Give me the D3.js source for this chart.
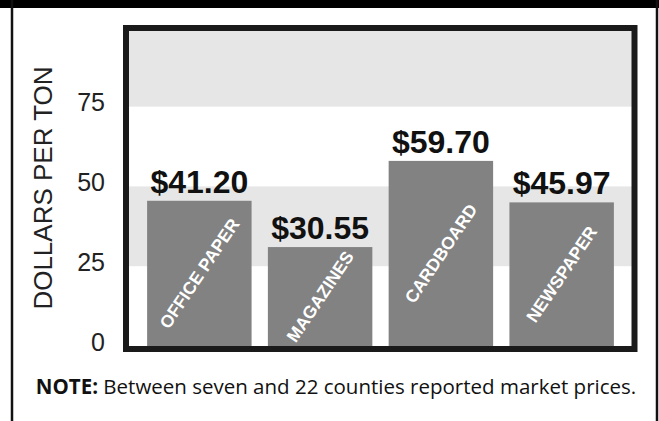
<!DOCTYPE html>
<html>
<head>
<meta charset="utf-8">
<script src="https://cdn.jsdelivr.net/npm/d3@7"></script>
<style>
  body { margin: 0; background: #fff; }
  svg { display: block; }
</style>
</head>
<body>
<svg id="chart" width="659" height="421"></svg>
<script>
// values
var categories = ["OFFICE PAPER", "MAGAZINES", "CARDBOARD", "NEWSPAPER"];
var priceLabels = ["$41.20", "$30.55", "$59.70", "$45.97"];
// bar heights as drawn in the original (dollars per ton)
var barHeights = [45.5, 31, 58, 45];
var yTicks = [0, 25, 50, 75];
var bandStarts = [25, 75];   // grey stripes, each 25 wide

var svg = d3.select("#chart");
var W = 659, H = 421;

// outer box
svg.append("rect").attr("x", 0).attr("y", 0).attr("width", W).attr("height", 8).attr("fill", "#000");
svg.append("line").attr("x1", 12).attr("x2", 12).attr("y1", 0).attr("y2", H)
    .attr("stroke", "#111").attr("stroke-width", 2.5);
svg.append("line").attr("x1", 657).attr("x2", 657).attr("y1", 0).attr("y2", H)
    .attr("stroke", "#111").attr("stroke-width", 2.5);

var plot = {left: 129, right: 632, top: 31, bottom: 346};

var y = d3.scaleLinear().domain([0, 98.7]).range([plot.bottom, plot.top]);
var x = d3.scaleBand().domain(categories).range([plot.left, plot.right])
    .paddingInner(0.135).paddingOuter(0.15);

var g = svg.append("g");

// stripes
g.selectAll("rect.band")
    .data(bandStarts)
    .join("rect")
    .attr("class", "band")
    .attr("x", plot.left)
    .attr("width", plot.right - plot.left)
    .attr("y", function(d) { return Math.max(y(d + 25), plot.top); })
    .attr("height", function(d) { return y(d) - Math.max(y(d + 25), plot.top); })
    .attr("fill", "#e6e6e6");

// bars
g.selectAll("rect.bar")
    .data(categories)
    .join("rect")
    .attr("class", "bar")
    .attr("x", function(d) { return x(d); })
    .attr("width", x.bandwidth())
    .attr("y", function(d, i) { return y(barHeights[i]); })
    .attr("height", function(d, i) { return plot.bottom - y(barHeights[i]); })
    .attr("fill", "#828282");

// price labels
g.selectAll("text.price")
    .data(categories)
    .join("text")
    .attr("class", "price")
    .attr("x", function(d) { return x(d) + x.bandwidth() / 2; })
    .attr("y", function(d, i) { return y(barHeights[i]) - 8; })
    .attr("text-anchor", "middle")
    .attr("font-family", "'Liberation Sans', Arial, sans-serif")
    .attr("font-weight", "bold")
    .attr("font-size", 32)
    .attr("fill", "#111")
    .text(function(d, i) { return priceLabels[i]; });

// category names inside bars
g.selectAll("text.cat")
    .data(categories)
    .join("text")
    .attr("class", "cat")
    .attr("transform", function(d, i) {
        var cx = x(d) + x.bandwidth() / 2;
        var cy = (y(barHeights[i]) + plot.bottom) / 2;
        return "translate(" + cx + "," + cy + ") rotate(-56)";
    })
    .attr("text-anchor", "middle")
    .attr("dy", "0.35em")
    .attr("font-family", "'Liberation Sans', Arial, sans-serif")
    .attr("font-weight", "bold")
    .attr("font-size", 17.5)
    .attr("fill", "#fff")
    .text(function(d) { return d; });

// frame
svg.append("rect")
    .attr("x", 126).attr("y", 28)
    .attr("width", 508.5).attr("height", 321)
    .attr("fill", "none")
    .attr("stroke", "#1a1a1a")
    .attr("stroke-width", 6);

// y axis
var yAxis = d3.axisLeft(y).tickValues(yTicks).tickSize(0).tickPadding(24);
var ax = svg.append("g")
    .attr("transform", "translate(" + plot.left + ",-4)")
    .call(yAxis);
ax.select(".domain").remove();
ax.selectAll("text")
    .attr("font-family", "'Liberation Sans', Arial, sans-serif")
    .attr("font-size", 25)
    .attr("fill", "#222");

svg.append("text")
    .attr("transform", "translate(52,188) rotate(-90)")
    .attr("text-anchor", "middle")
    .attr("font-family", "'Liberation Sans', Arial, sans-serif")
    .attr("font-size", 26)
    .attr("fill", "#222")
    .text("DOLLARS PER TON");

// note
var note = svg.append("text")
    .attr("x", 336).attr("y", 394)
    .attr("text-anchor", "middle")
    .attr("font-family", "'Open Sans', sans-serif")
    .attr("font-size", 20.5)
    .attr("fill", "#111");
note.append("tspan").attr("font-weight", "bold").text("NOTE:");
note.append("tspan").text(" Between seven and 22 counties reported market prices.");
</script>
</body>
</html>
